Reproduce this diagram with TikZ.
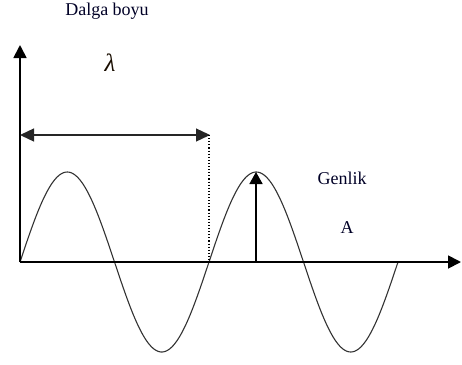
\documentclass[tikz,border=0pt]{standalone}
\usepackage{fontspec}
\setmainfont{Liberation Serif}
\usetikzlibrary{arrows.meta}
\begin{document}
\begin{tikzpicture}[x=1pt,y=-1pt,
  axis/.style={line width=1.8pt,-{Triangle[length=13pt,width=13pt]}},
  dim/.style={line width=1.3pt,draw=black!85,{Triangle[length=14pt,width=13pt]}-{Triangle[length=14pt,width=13pt]}},
  amp/.style={line width=1.8pt,-{Triangle[length=12pt,width=13pt]}},
  wave/.style={line width=1.1pt,draw=black!80},
  lbl/.style={inner sep=0pt,font=\fontsize{18}{20}\selectfont,text=black!85!blue}]
\useasboundingbox (0,0) rectangle (462,364);
\coordinate (O) at (20,262);
\coordinate (Ytop) at (20,45);
\coordinate (Xend) at (461,262);
\coordinate (L1) at (20,135);
\coordinate (L2) at (210,135);
\coordinate (Dtop) at (209,135);
\coordinate (D) at (209,262);
\coordinate (Abase) at (256,262);
\coordinate (Atop) at (256,172);
\draw[wave] plot[domain=0:720,samples=240] ({20+0.525*\x},{262-90*sin(\x)});
\draw[axis] (O) -- (Ytop);
\draw[axis] (O) -- (Xend);
\draw[dim] (L1) -- (L2);
\draw[line width=1.1pt,dotted] (Dtop) -- (D);
\draw[amp] (Abase) -- (Atop);
\node[lbl,anchor=base] (title) at (107,16) {Dalga boyu};
\node[lbl,anchor=base,font=\fontsize{25}{28}\selectfont\itshape,text=black!90!orange] (lam) at (110,71) {λ};
\node[lbl,anchor=base] (genlik) at (342,184) {Genlik};
\node[lbl,anchor=base] (A) at (347,233) {A};
\end{tikzpicture}
\end{document}
